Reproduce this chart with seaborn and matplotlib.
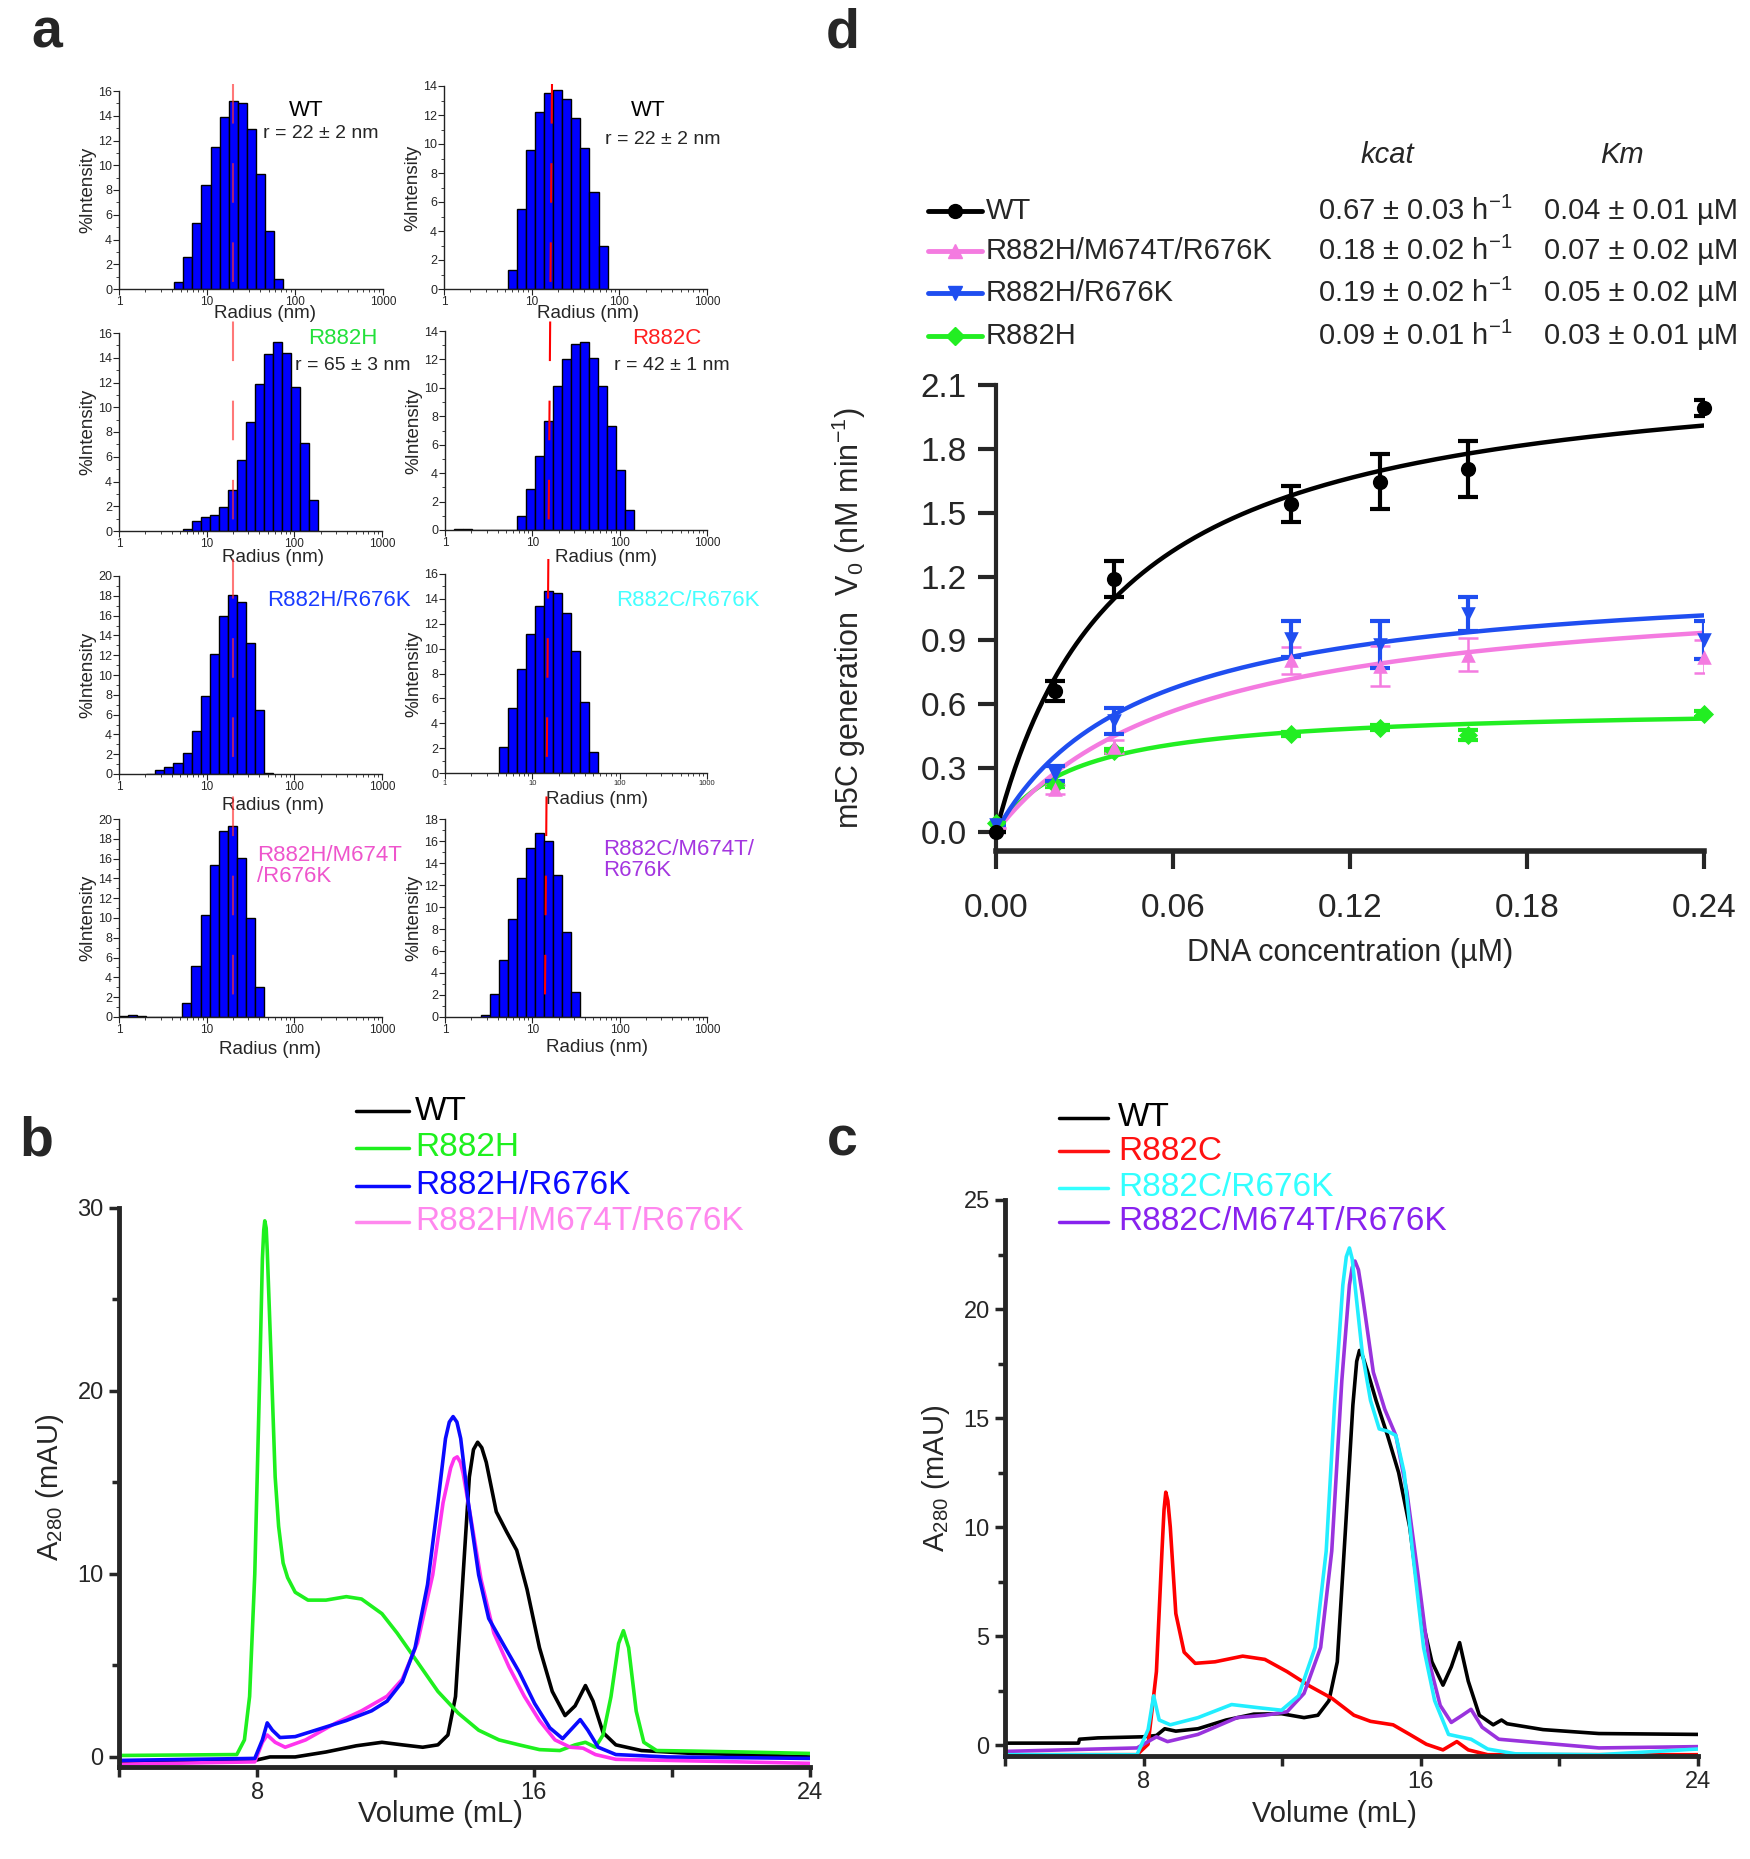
import numpy as np
import matplotlib
matplotlib.use("Agg")
import matplotlib.pyplot as plt
from matplotlib.lines import Line2D
from matplotlib.ticker import FixedLocator, MultipleLocator, NullFormatter, LogLocator
import seaborn as sns

# ---------------- data ----------------
# a: DLS size distributions (log-spaced bins, ~0.1033 decade wide)
BIN_DEC = 0.1033
hist_titles = ["WT", "WT", "R882H", "R882C", "R882H/R676K", "R882C/R676K",
               "R882H/M674T\n/R676K", "R882C/M674T/\nR676K"]
hist_radius = ["r = 22 ± 2 nm", "r = 22 ± 2 nm", "r = 65 ± 3 nm", "r = 42 ± 1 nm",
               None, None, None, None]
hist_start_nm = [4.24, 5.37, 5.31, 1.27, 2.05, 4.18, 1.0, 2.60]
hist_ymax = [16, 14, 16, 14, 20, 16, 20, 18]
h_wt_1 = [0.6, 2.6, 5.3, 8.4, 11.5, 13.9, 15.2, 15.0, 12.9, 9.3, 4.7, 0.8]
h_wt_2 = [1.3, 5.5, 9.6, 12.2, 13.5, 13.7, 13.1, 11.8, 9.7, 6.7, 3.0]
h_r882h = [0.2, 0.8, 1.1, 1.3, 1.9, 3.3, 5.7, 8.8, 11.9, 14.3, 15.3, 14.4, 11.6, 7.1, 2.5]
h_r882c = [0.1, 0.1, 0, 0, 0, 0, 0, 1.0, 2.9, 5.2, 7.7, 10.1, 12.0, 13.1, 13.2, 12.1,
           10.1, 7.3, 4.2, 1.4]
h_r882h_r676k = [0.05, 0.4, 0.7, 1.1, 2.1, 4.3, 7.9, 12.1, 16.0, 18.1, 17.4, 13.2, 6.5, 0.1]
h_r882c_r676k = [2.1, 5.2, 8.4, 11.2, 13.4, 14.6, 14.5, 12.9, 9.8, 5.7, 1.7]
h_r882h_triple = [0.1, 0.25, 0.15, 0, 0, 0, 0, 1.4, 5.2, 10.3, 15.4, 18.8, 19.3, 16.1, 10.0, 3.0]
h_r882c_triple = [0.2, 2.1, 5.2, 8.9, 12.6, 15.4, 16.7, 16.0, 12.9, 7.7, 2.3]
hist_heights = [h_wt_1, h_wt_2, h_r882h, h_r882c, h_r882h_r676k, h_r882c_r676k,
                h_r882h_triple, h_r882c_triple]

# d: methylation kinetics
conc = [0.0, 0.02, 0.04, 0.10, 0.13, 0.16, 0.24]
d_names = ["WT", "R882H/M674T/R676K", "R882H/R676K", "R882H"]
v_wt = [0.0, 0.662, 1.189, 1.54, 1.646, 1.704, 1.993]
e_wt = [0.0, 0.046, 0.084, 0.083, 0.13, 0.131, 0.037]
v_triple = [0.02, 0.20, 0.40, 0.806, 0.778, 0.833, 0.824]
e_triple = [0.0, 0.02, 0.03, 0.065, 0.094, 0.079, 0.079]
v_double = [0.03, 0.274, 0.523, 0.907, 0.88, 1.022, 0.90]
e_double = [0.0, 0.037, 0.061, 0.083, 0.11, 0.08, 0.089]
v_r882h = [0.04, 0.22, 0.38, 0.46, 0.49, 0.455, 0.555]
e_r882h = [0.0, 0.01, 0.01, 0.01, 0.01, 0.025, 0.015]
fit_vmax = [2.243, 1.193, 1.225, 0.590]
fit_km = [0.0419, 0.0661, 0.049, 0.0261]
kcat_txt = ["0.67 ± 0.03 h", "0.18 ± 0.02 h", "0.19 ± 0.02 h", "0.09 ± 0.01 h"]
km_txt = ["0.04 ± 0.01 µM", "0.07 ± 0.02 µM", "0.05 ± 0.02 µM", "0.03 ± 0.01 µM"]

# b: gel filtration, R882H series
b_names = ["WT", "R882H", "R882H/R676K", "R882H/M674T/R676K"]
b_wt_x = [4.0, 7.93, 8.37, 9.10, 9.99, 10.87, 11.61, 12.2, 12.79, 13.23, 13.52, 13.74, 13.96,
          14.14, 14.26, 14.38, 14.5, 14.63, 14.92, 15.22, 15.51, 15.81, 16.17, 16.54, 16.91,
          17.2, 17.5, 17.72, 18.01, 18.38, 19.12, 20.6, 22.06, 24.0]
b_wt_y = [-0.27, -0.19, 0.0, 0.0, 0.27, 0.61, 0.8, 0.66, 0.53, 0.66, 1.2, 3.3, 9.95,
          15.3, 16.8, 17.2, 16.9, 16.1, 13.4, 12.3, 11.3, 9.16, 5.97, 3.58, 2.26,
          2.79, 3.9, 3.05, 1.33, 0.66, 0.35, 0.19, 0.13, 0.0]
b_h_x = [4.0, 7.41, 7.63, 7.78, 7.93, 8.07, 8.15, 8.19, 8.22, 8.26, 8.29, 8.40, 8.52, 8.62,
         8.75, 8.88, 9.10, 9.47, 9.99, 10.58, 11.02, 11.61, 12.05, 12.64, 13.23, 13.82, 14.41,
         15.0, 15.58, 16.17, 16.76, 17.2, 17.5, 17.79, 18.01, 18.24, 18.46, 18.6, 18.75, 18.97,
         19.19, 19.56, 20.6, 22.06, 24.0]
b_h_y = [0.08, 0.13, 0.93, 3.3, 10.0, 20.6, 27.2, 28.8, 29.3, 28.9, 27.7, 21.9, 15.3, 12.6,
         10.6, 9.8, 9.0, 8.57, 8.57, 8.76, 8.63, 7.83, 6.77, 5.18, 3.58, 2.39, 1.46,
         0.93, 0.66, 0.40, 0.35, 0.66, 0.80, 0.53, 1.2, 3.3, 6.2, 6.9, 5.97, 2.5,
         0.8, 0.35, 0.32, 0.27, 0.19]
b_hk_x = [4.0, 7.93, 8.15, 8.29, 8.44, 8.66, 9.10, 9.69, 10.58, 11.31, 11.76, 12.2, 12.57,
          12.93, 13.23, 13.45, 13.56, 13.67, 13.78, 13.89, 14.11, 14.41, 14.70, 15.14, 15.58,
          16.03, 16.47, 16.84, 17.13, 17.35, 17.57, 17.87, 18.38, 19.86, 24.0]
b_hk_y = [-0.19, -0.08, 0.93, 1.86, 1.46, 1.06, 1.11, 1.46, 1.99, 2.52, 3.05, 4.11, 5.97,
          9.42, 13.9, 17.4, 18.3, 18.6, 18.3, 17.4, 13.9, 9.95, 7.57, 6.1, 4.65,
          2.92, 1.59, 1.0, 1.59, 2.04, 1.46, 0.53, 0.13, 0.0, -0.08]
b_t_x = [4.0, 7.93, 8.15, 8.29, 8.52, 8.81, 9.40, 10.28, 11.02, 11.76, 12.2, 12.64, 13.08,
         13.38, 13.6, 13.7, 13.79, 13.88, 13.96, 14.18, 14.48, 14.85, 15.29, 15.73, 16.17,
         16.62, 17.06, 17.43, 17.79, 18.38, 24.0]
b_t_y = [-0.4, -0.27, 0.8, 1.2, 0.8, 0.53, 0.93, 1.86, 2.52, 3.32, 4.25, 6.24, 9.95,
         13.9, 15.8, 16.3, 16.4, 16.1, 15.5, 13.1, 9.7, 6.77, 4.91, 3.32, 1.99,
         0.93, 0.53, 0.48, 0.13, -0.13, -0.35]

# c: gel filtration, R882C series
c_names = ["WT", "R882C", "R882C/R676K", "R882C/M674T/R676K"]
c_wt_x = [4.0, 6.12, 6.15, 6.68, 7.97, 8.37, 8.61, 8.93, 9.57, 10.38, 11.18, 11.98, 12.63,
          13.03, 13.35, 13.59, 13.83, 14.04, 14.15, 14.23, 14.33, 14.47, 14.71, 15.04, 15.36,
          15.68, 16.0, 16.32, 16.64, 16.88, 17.12, 17.37, 17.69, 18.09, 18.33, 18.49, 19.53,
          21.14, 24.0]
c_wt_y = [0.09, 0.09, 0.27, 0.33, 0.38, 0.44, 0.75, 0.64, 0.75, 1.15, 1.42, 1.44, 1.26,
          1.37, 2.04, 3.82, 10.0, 15.6, 17.6, 18.1, 17.8, 17.1, 15.8, 14.2, 12.5,
          10.0, 6.03, 3.82, 2.75, 3.59, 4.7, 2.93, 1.37, 0.93, 1.15, 0.98, 0.71,
          0.53, 0.49]
c_c_x = [4.0, 7.81, 8.13, 8.37, 8.53, 8.59, 8.64, 8.70, 8.77, 8.93, 9.17, 9.49, 10.06, 10.86,
         11.5, 12.14, 12.79, 13.43, 14.07, 14.55, 15.2, 15.68, 16.16, 16.64, 17.04, 17.37,
         17.93, 24.0]
c_c_y = [-0.44, -0.44, 0.04, 3.37, 8.9, 10.8, 11.6, 11.2, 10.0, 6.03, 4.26, 3.75, 3.82, 4.08,
         3.93, 3.37, 2.71, 2.15, 1.37, 1.09, 0.93, 0.49, 0.04, -0.22, 0.16, -0.22,
         -0.44, -0.44]
c_ck_x = [4.0, 7.81, 8.13, 8.29, 8.45, 8.77, 9.57, 10.54, 11.34, 11.98, 12.47, 12.95,
          13.27, 13.51, 13.75, 13.85, 13.94, 14.02, 14.1, 14.31, 14.55, 14.8, 15.04, 15.28,
          15.52, 15.76, 16.08, 16.4, 16.8, 17.12, 17.45, 17.93, 18.73, 21.14, 24.0]
c_ck_y = [-0.44, -0.44, 0.71, 2.26, 1.15, 0.93, 1.26, 1.86, 1.71, 1.6, 2.26, 4.48,
          8.9, 15.6, 21.1, 22.4, 22.8, 22.3, 21.1, 18.0, 15.8, 14.5, 14.4, 14.2,
          12.5, 8.9, 4.48, 2.04, 0.49, 0.38, 0.27, -0.18, -0.4, -0.44, -0.18]
c_t_x = [4.0, 7.81, 8.37, 8.69, 9.57, 10.7, 11.5, 12.14, 12.63, 13.11, 13.43, 13.72, 13.94,
         14.02, 14.1, 14.2, 14.31, 14.63, 14.96, 15.28, 15.6, 15.92, 16.24, 16.56, 16.88,
         17.2, 17.45, 17.77, 18.25, 19.53, 21.14, 24.0]
c_t_y = [-0.29, -0.13, 0.38, 0.16, 0.49, 1.26, 1.37, 1.53, 2.37, 4.48, 8.9, 16.7, 21.1,
         21.9, 22.2, 21.8, 20.7, 17.1, 15.4, 14.2, 11.6, 7.8, 3.82, 1.82, 1.04,
         1.37, 1.64, 0.82, 0.27, 0.09, -0.13, -0.07]

# ---------------- style ----------------
sns.set_style("ticks")
plt.rcParams['font.family'] = ['Liberation Sans', 'DejaVu Sans']
plt.rcParams['mathtext.fontset'] = 'custom'
plt.rcParams['mathtext.rm'] = 'Liberation Sans'
plt.rcParams['mathtext.it'] = 'Liberation Sans:italic'

W, H = 1750, 1859
fig = plt.figure(figsize=(W / 100, H / 100), dpi=100)


def rect(l, t, r, b):
    return [l / W, 1 - b / H, (r - l) / W, (b - t) / H]


def ftext(x, y, s, **kw):
    fig.text(x / W, 1 - y / H, s, **kw)


def fline(xs, ys, **kw):
    fig.add_artist(Line2D([x / W for x in xs], [1 - y / H for y in ys],
                          transform=fig.transFigure, **kw))


# ---------------- panel a ----------------
hist_rects = [(119, 91, 383, 289), (444, 86, 707, 289), (119, 333, 382, 531), (445, 331, 707, 530),
              (119, 576, 382, 774), (445, 574, 707, 773), (119, 819, 382, 1017), (445, 819, 707, 1017)]
title_pos = [(306, 110), (648, 110), (343, 338), (667, 338), (339, 600), (688, 600), (257, 866), (603, 860)]
title_col = ["black", "black", "#22e03a", "#ff2020", "#1a3cff", "#44ffff", "#ee55cc", "#a436e0"]
radius_pos = [(321, 133), (663, 140), (353, 365), (672, 365)]
xlab_pos = [(265, 314), (588, 314), (273, 557), (606, 557), (273, 805), (597, 799), (270, 1049), (597, 1048)]

for i in range(8):
    ax = fig.add_axes(rect(*hist_rects[i]))
    h = np.array(hist_heights[i])
    edges = hist_start_nm[i] * 10 ** (BIN_DEC * np.arange(len(h) + 1))
    ax.bar(edges[:-1], h, width=np.diff(edges), align='edge', color='#0000ff',
           edgecolor='black', linewidth=1.0)
    ax.set_xscale('log')
    ax.set_xlim(1, 1000)
    ax.set_ylim(0, hist_ymax[i])
    ax.xaxis.set_major_locator(FixedLocator([1, 10, 100, 1000]))
    ax.set_xticklabels(['1', '10', '100', '1000'])
    ax.xaxis.set_minor_locator(LogLocator(base=10, subs=np.arange(2, 10)))
    ax.xaxis.set_minor_formatter(NullFormatter())
    ax.yaxis.set_major_locator(MultipleLocator(2))
    ax.yaxis.set_minor_locator(MultipleLocator(1))
    for s in ['top', 'right']:
        ax.spines[s].set_visible(False)
    for s in ['left', 'bottom']:
        ax.spines[s].set_linewidth(1.0)
        ax.spines[s].set_color('#222222')
    ax.tick_params(axis='both', which='major', length=4, width=0.8, pad=1, color='#222222')
    ax.tick_params(axis='both', which='minor', length=2, width=0.6, color='#222222')
    ax.tick_params(axis='y', labelsize=9)
    ax.tick_params(axis='x', labelsize=5.5 if i == 5 else 8.5)
    ax.set_ylabel('%Intensity', fontsize=13.5, labelpad=1)
    ftext(*xlab_pos[i], 'Radius (nm)', fontsize=13.5, ha='center', va='center')
    if i < 6:
        ftext(*title_pos[i], hist_titles[i], fontsize=16, color=title_col[i],
              ha='center', va='center')
    else:
        ftext(*title_pos[i], hist_titles[i], fontsize=16, color=title_col[i],
              ha='left', va='center', linespacing=1.05)
    if hist_radius[i]:
        ftext(*radius_pos[i], hist_radius[i], fontsize=14, ha='center', va='center')

# red dashed reference lines through the DLS column
fline([233, 233], [84, 995], color='#ff3030', alpha=0.65, lw=1.5, dashes=(19, 19), zorder=5)
fline([552, 545], [84, 995], color='#ff0000', lw=1.5, dashes=(19, 19), zorder=5)

# ---------------- panel d ----------------
axd = fig.add_axes(rect(996, 385, 1704, 851))
d_vals = [v_wt, v_triple, v_double, v_r882h]
d_errs = [e_wt, e_triple, e_double, e_r882h]
d_cols = ['black', '#f47be0', '#1f4ef0', '#22ee22']
d_marks = ['o', '^', 'v', 'D']
d_msize = [120, 110, 110, 95]
d_elw = [3, 1.8, 3, 3]
xs = np.linspace(0, 0.24, 300)
order = [3, 1, 2, 0]
for k in order:
    sns.lineplot(x=xs, y=fit_vmax[k] * xs / (fit_km[k] + xs), ax=axd, color=d_cols[k],
                 lw=3.2, sort=False, estimator=None, zorder=3)
    axd.errorbar(conc, d_vals[k], yerr=d_errs[k], fmt='none', ecolor=d_cols[k],
                 elinewidth=d_elw[k], capsize=7, capthick=d_elw[k], zorder=4)
    sns.scatterplot(x=conc, y=d_vals[k], ax=axd, marker=d_marks[k], s=d_msize[k],
                    color=d_cols[k], edgecolor=d_cols[k], linewidth=0, zorder=5, clip_on=False)
axd.set_xlim(0, 0.24)
axd.set_ylim(-0.09, 2.1)
axd.set_xticks([0.0, 0.06, 0.12, 0.18, 0.24])
axd.set_xticklabels(['0.00', '0.06', '0.12', '0.18', '0.24'])
axd.set_yticks([0.0, 0.3, 0.6, 0.9, 1.2, 1.5, 1.8, 2.1])
axd.set_yticklabels(['0.0', '0.3', '0.6', '0.9', '1.2', '1.5', '1.8', '2.1'])
for s in ['top', 'right']:
    axd.spines[s].set_visible(False)
axd.spines['left'].set_linewidth(3)
axd.spines['bottom'].set_linewidth(4)
axd.tick_params(axis='both', length=13, width=3, labelsize=24, pad=8)
axd.tick_params(axis='x', pad=17)
axd.set_xlabel('DNA concentration (µM)', fontsize=22, labelpad=10)
axd.set_ylabel(r'm5C generation  V$_0$ (nM min$^{-1}$)', fontsize=22, labelpad=38)

# table / legend of panel d
ftext(1387, 155, 'kcat', fontsize=21, style='italic', ha='center', va='center')
ftext(1622, 155, 'Km', fontsize=21, style='italic', ha='center', va='center')
row_y = [211, 251, 293, 336]
for k in range(4):
    y = row_y[k]
    fline([928, 982], [y, y], color=d_cols[k], lw=3.5)
    fline([955], [y], color=d_cols[k], marker=d_marks[k], ms=10 if k < 3 else 9, lw=0)
    ftext(986, y, d_names[k], fontsize=21, ha='left', va='center')
    ftext(1318, y, kcat_txt[k] + r'$^{\mathregular{-1}}$', fontsize=21, ha='left', va='center')
    ftext(1544, y, km_txt[k], fontsize=21, ha='left', va='center')


# ---------------- panels b and c ----------------
def chrom_axes(r, ymax, ystep, yminor, ylim_low, xlab_xy):
    ax = fig.add_axes(rect(*r))
    ax.set_xlim(4, 24)
    ax.set_ylim(ylim_low, ymax)
    ax.xaxis.set_major_locator(FixedLocator([4, 8, 12, 16, 20, 24]))
    ax.set_xticklabels(['', '8', '', '16', '', '24'])
    ax.yaxis.set_major_locator(MultipleLocator(ystep))
    ax.yaxis.set_minor_locator(MultipleLocator(yminor))
    for s in ['top', 'right']:
        ax.spines[s].set_visible(False)
    ax.spines['left'].set_linewidth(3.5)
    ax.spines['bottom'].set_linewidth(3.5)
    ax.tick_params(axis='both', which='major', length=7, width=2.5, labelsize=17, pad=4)
    ax.tick_params(axis='both', which='minor', length=5, width=2.5)
    ax.set_xlabel('Volume (mL)', fontsize=21, va='center')
    ax.xaxis.set_label_coords(*xlab_xy)
    ax.set_ylabel(r'A$_{280}$ (mAU)', fontsize=21, labelpad=8)
    return ax


axb = chrom_axes((119, 1208, 810, 1767), 30, 10, 5, -0.55, (0.465, -0.084))
b_x = [b_wt_x, b_h_x, b_hk_x, b_t_x]
b_y = [b_wt_y, b_h_y, b_hk_y, b_t_y]
b_cols = ['black', '#1ef01e', '#0a0aff', '#ff33ee']
b_leg_cols = ['black', '#1ef01e', '#0a0aff', '#ff88ee']
for k in [0, 1, 3, 2]:
    sns.lineplot(x=b_x[k], y=b_y[k], ax=axb, color=b_cols[k], lw=2.6, sort=False, estimator=None)
for k, y in enumerate([1111, 1148, 1186, 1222]):
    fline([356, 409], [y, y], color=b_leg_cols[k], lw=2.5)
    ftext(415, y, b_names[k], color=b_leg_cols[k], fontsize=24, ha='left', va='center')

axc = chrom_axes((1005, 1200, 1698, 1756), 25, 5, 2.5, -0.5, (0.475, -0.104))
c_x = [c_wt_x, c_c_x, c_ck_x, c_t_x]
c_y = [c_wt_y, c_c_y, c_ck_y, c_t_y]
c_cols = ['black', '#ff0000', '#22eeff', '#9933dd']
c_leg_cols = ['black', '#ff1111', '#33ffff', '#8822ee']
for k in [0, 1, 3, 2]:
    sns.lineplot(x=c_x[k], y=c_y[k], ax=axc, color=c_cols[k], lw=2.6, sort=False, estimator=None)
for k, y in enumerate([1118, 1151, 1188, 1222]):
    fline([1059, 1108], [y, y], color=c_leg_cols[k], lw=2.5)
    ftext(1118, y, c_names[k], color=c_leg_cols[k], fontsize=24, ha='left', va='center')

# panel letters
for lab, (x, y) in zip(['a', 'd', 'b', 'c'], [(47, 33), (843, 33), (36, 1141), (842, 1141)]):
    ftext(x, y, lab, fontsize=40, fontweight='bold', ha='center', va='center')

fig.savefig('out.png', dpi=100)
